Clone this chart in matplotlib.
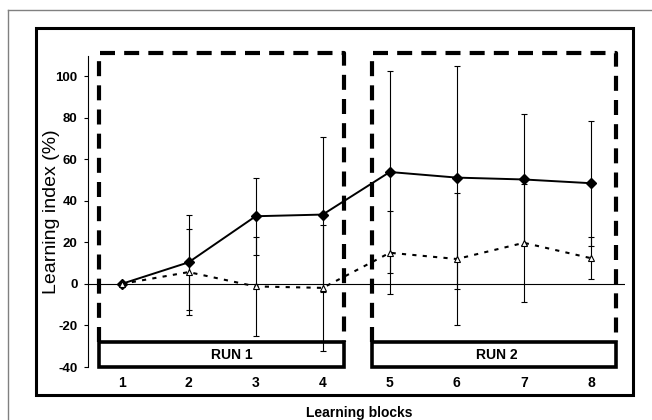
import matplotlib.pyplot as plt
import numpy as np

from matplotlib.figure import Figure
from matplotlib.axes import Axes
from matplotlib.patches import Rectangle
from matplotlib.lines import Line2D

# ------------------------------
# Data
# ------------------------------
blocks: list = [1, 2, 3, 4, 5, 6, 7, 8]
solid_mean: list = [0.0, 10.4, 32.6, 33.4, 53.9, 51.2, 50.3, 48.5]
solid_sd: list = [0.0, 22.8, 18.6, 37.3, 48.8, 53.8, 31.6, 30.1]
dashed_mean: list = [0.0, 5.7, -1.2, -1.9, 15.0, 12.0, 19.8, 12.4]
dashed_sd: list = [0.0, 20.6, 23.7, 30.2, 20.0, 31.7, 28.5, 10.1]
yticks: list = [-40, -20, 0, 20, 40, 60, 80, 100]
run_labels: list = ["RUN 1", "RUN 2"]

# box extents in data units (x0, x1)
run_spans: list = [(0.67, 4.31), (4.73, 8.37)]
run_text_x: list = [2.64, 6.6]


def px_x(p: float) -> float:
    return p / 652.0


def px_y(p: float) -> float:
    return 1.0 - p / 420.0


# ------------------------------
# Define Figure & Axes
# ------------------------------
plt.rcParams["font.family"] = ["Liberation Sans", "DejaVu Sans"]
fig: Figure = plt.figure(figsize=(6.52, 4.2), dpi=100)
ax: Axes = fig.add_axes([px_x(88), px_y(367), (624.5 - 88) / 652, (367 - 55.5) / 420])

ax.set_xlim(0.5, 8.5)
ax.set_ylim(-40, 110)
for side in ["top", "right", "bottom"]:
    ax.spines[side].set_visible(False)
ax.spines["left"].set_linewidth(0.8)
ax.set_yticks(yticks)
ax.set_yticklabels([str(t) for t in yticks], fontweight="bold", fontsize=9.5)
ax.set_xticks(blocks)
ax.set_xticklabels([str(b) for b in blocks], fontweight="bold", fontsize=10)
ax.tick_params(axis="y", direction="out", length=3, width=0.8, pad=4.5)
ax.tick_params(axis="x", length=0, pad=6.5)
ax.axhline(0, color="black", linewidth=0.8, zorder=2)

# ------------------------------
# Run boxes
# ------------------------------
for (x0, x1), label, tx in zip(run_spans, run_labels, run_text_x):
    ax.plot([x0, x0, x1, x1], [-28.0, 111.2, 111.2, -28.0], color="black",
            linewidth=3.0, linestyle=(0, (3.6, 2.2)), clip_on=False, zorder=1,
            solid_capstyle="butt", dash_capstyle="butt")
    ax.add_patch(Rectangle((x0, -40.0), x1 - x0, 11.8, facecolor="white",
                           edgecolor="black", linewidth=2.6, clip_on=False, zorder=1.5))
    ax.text(tx, -34.3, label, ha="center", va="center", fontweight="bold",
            fontsize=10, zorder=1.6)

# ------------------------------
# Plot series
# ------------------------------
ax.errorbar(blocks, solid_mean, yerr=solid_sd, fmt="none", ecolor="black",
            elinewidth=0.8, capsize=2.5, capthick=0.8, zorder=3)
ax.errorbar(blocks, dashed_mean, yerr=dashed_sd, fmt="none", ecolor="black",
            elinewidth=0.8, capsize=2.5, capthick=0.8, zorder=3)
ax.plot(blocks, solid_mean, color="black", linewidth=1.4, marker="D",
        markersize=5, markerfacecolor="black", zorder=4)
ax.plot(blocks, dashed_mean, color="black", linewidth=1.5, linestyle=(0, (2, 3)),
        marker="^", markersize=4.5, markerfacecolor="white", markeredgewidth=0.8,
        zorder=5)

# ------------------------------
# Labels & frames
# ------------------------------
fig.text(px_x(52), px_y(212), "Learning index (%)", rotation=90, ha="center",
         va="center", fontsize=14)
fig.text(px_x(359), px_y(416.5), "Learning blocks", ha="center", va="baseline",
         fontweight="bold", fontsize=10)

fig.add_artist(Rectangle((px_x(36), px_y(395)), (633 - 36) / 652, (395 - 28) / 420,
                         transform=fig.transFigure, fill=False, edgecolor="black",
                         linewidth=2.2))
fig.add_artist(Line2D([px_x(8), 1.0], [px_y(10), px_y(10)], transform=fig.transFigure,
                      color="#808080", linewidth=1.0))
fig.add_artist(Line2D([px_x(8), px_x(8)], [px_y(10), 0.0], transform=fig.transFigure,
                      color="#808080", linewidth=1.0))

# ------------------------------
# Save figure
# ------------------------------
fig.savefig("out.png", dpi=100)
